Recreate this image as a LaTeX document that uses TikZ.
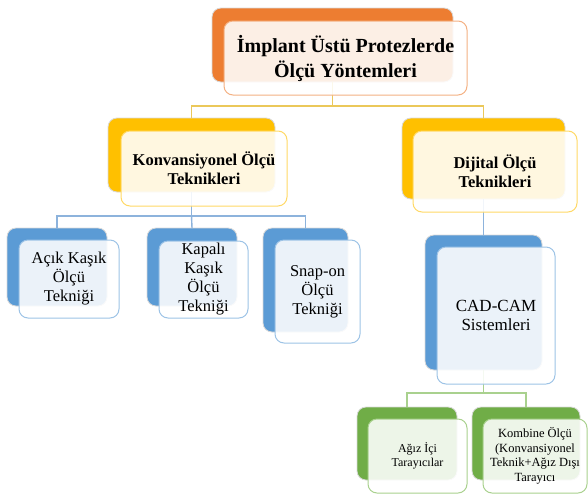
\documentclass[tikz,border=0pt]{standalone}
\usepackage{fontspec}
\setmainfont{Liberation Serif}
\definecolor{cOr}{HTML}{ED7D31}
\definecolor{cOrL}{HTML}{F4B183}
\definecolor{cGo}{HTML}{FFC000}
\definecolor{cGoL}{HTML}{FFD966}
\definecolor{cBl}{HTML}{5B9BD5}
\definecolor{cBlL}{HTML}{9DC3E6}
\definecolor{cGr}{HTML}{70AD47}
\definecolor{cGrL}{HTML}{A9D18E}
\definecolor{lnGo}{HTML}{EBC85A}
\definecolor{lnBl}{HTML}{8DB3DC}
\definecolor{lnGr}{HTML}{A9D18E}
\tikzset{
  backbox/.style={rectangle, rounded corners=9pt, draw=black!15, line width=0.8pt, inner sep=0pt, outer sep=0pt},
  frontbox/.style={rectangle, rounded corners=9pt, line width=1pt, fill=white, fill opacity=0.88, text opacity=1, inner sep=0pt, outer sep=0pt, align=center},
  conn/.style={line width=1.4pt},
  ttl/.style={font=\fontsize{20}{25}\selectfont\bfseries},
  lvtwo/.style={font=\fontsize{16.5}{19}\selectfont\bfseries},
  lvthree/.style={font=\fontsize{16.5}{19}\selectfont},
  lvfour/.style={font=\fontsize{12}{14}\selectfont}
}
\begin{document}
\begin{tikzpicture}[x=1pt,y=-1pt]
\useasboundingbox (0,0) rectangle (588,496);
% back boxes
\node[backbox, fill=cOr, minimum width=241pt, minimum height=74pt] (tB) at (332.5,45) {};
\node[backbox, fill=cGo, minimum width=167pt, minimum height=74pt] (kB) at (191.5,155) {};
\node[backbox, fill=cGo, minimum width=163pt, minimum height=81pt] (dB) at (483.5,158.5) {};
\node[backbox, fill=cBl, minimum width=100pt, minimum height=78pt] (aB) at (57,267) {};
\node[backbox, fill=cBl, minimum width=90pt, minimum height=78pt] (pB) at (192,267) {};
\node[backbox, fill=cBl, minimum width=85pt, minimum height=104pt] (sB) at (305.5,280) {};
\node[backbox, fill=cBl, minimum width=117pt, minimum height=135pt] (cB) at (483.5,302.5) {};
\node[backbox, fill=cGr, minimum width=100pt, minimum height=73pt] (gB) at (407,443.5) {};
\node[backbox, fill=cGr, minimum width=108pt, minimum height=73pt] (mB) at (526,443.5) {};
% connectors
\coordinate (bus1) at (332.5,106);
\coordinate (bus2) at (191.5,216);
\coordinate (bus3) at (483.5,393);
\draw[conn, lnGo] (tB.south) -- (bus1) -| (kB.north);
\draw[conn, lnGo] (bus1) -| (dB.north);
\draw[conn, lnBl] (kB.south) -- (bus2) -| (aB.north);
\draw[conn, lnBl] (bus2) -- (pB.north);
\draw[conn, lnBl] (bus2) -| (sB.north);
\draw[conn, lnBl] (dB.south) -- (cB.north);
\draw[conn, lnGr] (cB.south) -- (bus3) -| (gB.north);
\draw[conn, lnGr] (bus3) -| (mB.north);
% front boxes
\node[frontbox, draw=cOrL, minimum width=243pt, minimum height=74pt, ttl] (tF) at (345.5,58) {İmplant Üstü Protezlerde\\Ölçü Yöntemleri};
\node[frontbox, draw=cGoL, minimum width=166pt, minimum height=75pt, lvtwo] (kF) at (204,168.5) {Konvansiyonel Ölçü\\Teknikleri};
\node[frontbox, draw=cGoL, minimum width=164pt, minimum height=81pt, lvtwo] (dF) at (495,171.5) {Dijital Ölçü\\Teknikleri};
\node[frontbox, draw=cBlL, minimum width=100pt, minimum height=78pt, lvthree] (aF) at (69,279) {Açık Kaşık\\Ölçü\\Tekniği};
\node[frontbox, draw=cBlL, minimum width=89pt, minimum height=77pt, lvthree] (pF) at (203.5,279.5) {Kapalı\\Kaşık\\Ölçü\\Tekniği};
\node[frontbox, draw=cBlL, minimum width=85pt, minimum height=103pt, lvthree] (sF) at (317.5,291.5) {Snap-on\\Ölçü\\Tekniği};
\node[frontbox, draw=cBlL, minimum width=118pt, minimum height=137pt, font=\fontsize{17}{19}\selectfont] (cF) at (496,315.5) {CAD-CAM\\Sistemleri};
\node[frontbox, draw=cGrL, minimum width=99pt, minimum height=74pt, lvfour] (gF) at (417.5,456) {Ağız İçi\\Tarayıcılar};
\node[frontbox, draw=cGrL, minimum width=104pt, minimum height=74pt, font=\fontsize{12.5}{14.5}\selectfont] (mF) at (535,456) {Kombine Ölçü\\(Konvansiyonel\\Teknik+Ağız Dışı\\Tarayıcı};
\end{tikzpicture}
\end{document}
